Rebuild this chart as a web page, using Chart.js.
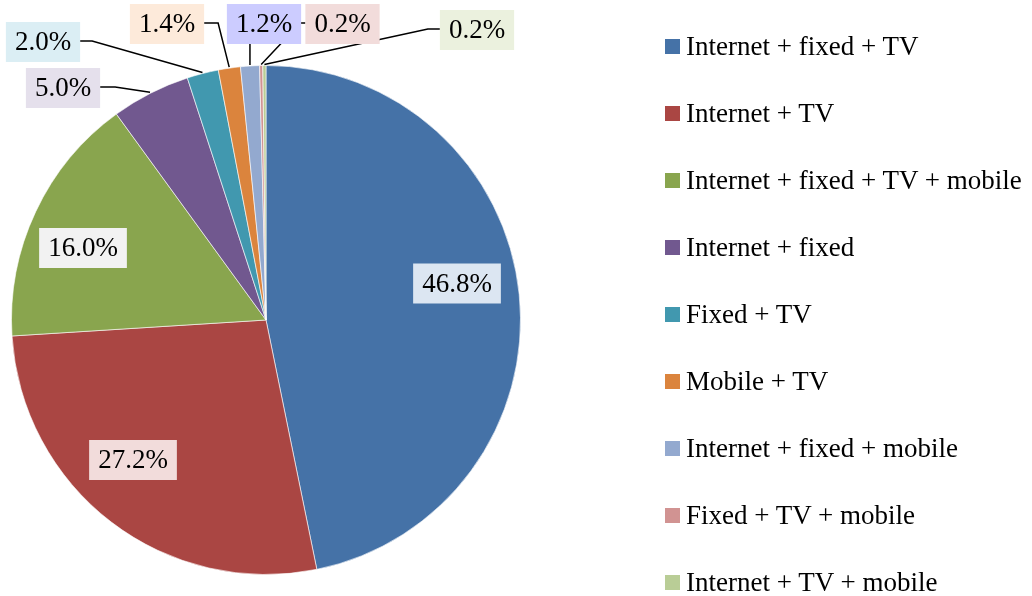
<!DOCTYPE html>
<html>
<head>
<meta charset="utf-8">
<script src="https://cdn.jsdelivr.net/npm/chart.js@4"></script>
<style>
  body { margin: 0; background: #fff; }
  #wrap { position: relative; width: 1032px; height: 596px; }
  #legend {
    position: absolute; left: 665px; top: 0;
    font-family: 'Liberation Serif', serif;
    font-size: 27px; color: #000;
  }
  .row { position: absolute; left: 0; height: 30px; white-space: nowrap; display: flex; align-items: center; }
  .sw { width: 15px; height: 15px; margin-right: 6px; flex: none; }
</style>
</head>
<body>
<div id="wrap">
  <canvas id="pie" width="1032" height="596"></canvas>
  <div id="legend"></div>
</div>
<script>
const categories = [
  'Internet + fixed + TV',
  'Internet + TV',
  'Internet + fixed + TV + mobile',
  'Internet + fixed',
  'Fixed + TV',
  'Mobile + TV',
  'Internet + fixed + mobile',
  'Fixed + TV + mobile',
  'Internet + TV + mobile'
];
const shares = [46.8, 27.2, 16.0, 5.0, 2.0, 1.4, 1.2, 0.2, 0.2];

const sliceColors = ['#4572A7', '#AA4643', '#89A54E', '#71588F', '#4198AF', '#DB843D', '#93A9CF', '#D19392', '#B9CD96'];
const labelFills = ['#DCE6F2', '#F2DCDB', '#F2F2F2', '#E5E0EC', '#DBEEF4', '#FDEADA', '#CCCCFF', '#F2DCDB', '#EBF1DE'];

// label box centre, offset from the pie centre; side = where the leader line leaves the box
const labelPlace = [
  { dx: 191, dy: -36.5 },
  { dx: -133, dy: 140 },
  { dx: -183, dy: -72 },
  { dx: -203, dy: -232, side: 'right', elbow: 15 },
  { dx: -223, dy: -278, side: 'right', elbow: 12 },
  { dx: -99, dy: -296, side: 'right', elbow: 14 },
  { dx: -2, dy: -296, side: 'bottom' },
  { dx: 76.5, dy: -296, side: 'left', elbow: 5 },
  { dx: 211, dy: -290, side: 'left', elbow: 12 }
];

const FONT = "27px 'Liberation Serif', serif";

const sliceLabels = {
  id: 'sliceLabels',
  afterDatasetsDraw(chart) {
    const ctx = chart.ctx;
    const arcs = chart.getDatasetMeta(0).data;
    ctx.save();
    ctx.font = FONT;
    const boxes = arcs.map((arc, i) => {
      const text = shares[i].toFixed(1) + '%';
      const w = ctx.measureText(text).width + 18;
      const h = 40;
      const cx = arc.x + labelPlace[i].dx, cy = arc.y + labelPlace[i].dy;
      return { text, w, h, cx, cy };
    });

    // leader lines under the boxes
    ctx.strokeStyle = '#000';
    ctx.lineWidth = 1.5;
    arcs.forEach((arc, i) => {
      const p = labelPlace[i];
      if (!p.side) return;
      const b = boxes[i];
      const mid = (arc.startAngle + arc.endAngle) / 2;
      const ex = arc.x + Math.cos(mid) * (arc.outerRadius + 1);
      const ey = arc.y + Math.sin(mid) * (arc.outerRadius + 1);
      ctx.beginPath();
      if (p.side === 'bottom') {
        ctx.moveTo(ex, b.cy + b.h / 2);
        ctx.lineTo(ex, ey);
      } else {
        const sx = p.side === 'right' ? b.cx + b.w / 2 : b.cx - b.w / 2;
        const kx = p.side === 'right' ? sx + p.elbow : sx - p.elbow;
        const sy = b.cy - 1;
        ctx.moveTo(sx, sy);
        ctx.lineTo(kx, sy);
        ctx.lineTo(ex, ey);
      }
      ctx.stroke();
    });

    ctx.textAlign = 'center';
    ctx.textBaseline = 'middle';
    boxes.forEach((b, i) => {
      ctx.fillStyle = labelFills[i];
      ctx.fillRect(b.cx - b.w / 2, b.cy - b.h / 2, b.w, b.h);
      ctx.fillStyle = '#000';
      ctx.fillText(b.text, b.cx, b.cy + 1);
    });
    ctx.restore();
  }
};

new Chart(document.getElementById('pie'), {
  type: 'pie',
  data: {
    labels: categories,
    datasets: [{
      data: shares,
      backgroundColor: sliceColors,
      borderColor: 'rgba(255,255,255,0.6)',
      borderWidth: 1
    }]
  },
  options: {
    responsive: false,
    animation: false,
    layout: { padding: { left: 11, right: 511, top: 65, bottom: 21 } },
    plugins: {
      legend: { display: false },
      tooltip: { enabled: false }
    }
  },
  plugins: [sliceLabels]
});

// legend on the right
const legend = document.getElementById('legend');
categories.forEach((name, i) => {
  const row = document.createElement('div');
  row.className = 'row';
  row.style.top = (31.5 + 67 * i) + 'px';
  row.innerHTML = '<span class="sw" style="background:' + sliceColors[i] + '"></span><span>' + name + '</span>';
  legend.appendChild(row);
});
</script>
</body>
</html>
